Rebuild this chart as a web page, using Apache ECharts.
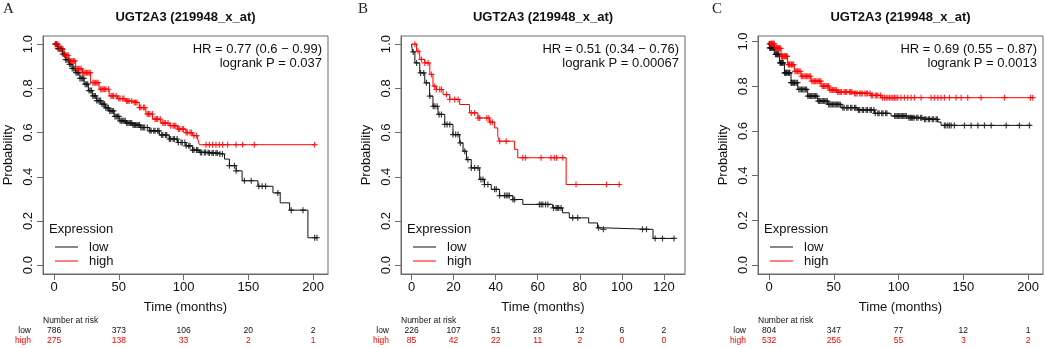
<!DOCTYPE html>
<html>
<head>
<meta charset="utf-8">
<script src="https://cdn.jsdelivr.net/npm/echarts@6/dist/echarts.min.js"></script>
<style>
  html, body { margin: 0; padding: 0; background: #fff; }
  #chart { width: 1045px; height: 348px; }
</style>
</head>
<body>
<div id="chart"></div>
<script>
// Kaplan-Meier curves: [time in months, survival]
const aLow = [[0,1.0],[3,0.98],[6.4,0.955],[9,0.93],[11.6,0.909],[14,0.89],[16.7,0.871],[20,0.845],[23.2,0.819],[26.5,0.79],[29.6,0.766],[33,0.745],[36.1,0.729],[39.5,0.712],[42.6,0.698],[46.4,0.673],[50.3,0.653],[55.4,0.643],[60.6,0.634],[67,0.623],[73.5,0.608],[81.3,0.589],[89,0.571],[95.4,0.555],[101.9,0.54],[107,0.521],[112.2,0.51],[120,0.507],[127.7,0.503],[131.6,0.48],[135.4,0.45],[140.6,0.427],[145.2,0.382],[157.4,0.357],[169,0.327],[174.6,0.282],[181.9,0.249],[196,0.124],[203.8,0.124]]
const aHigh = [[0,1.0],[3.9,0.977],[7.7,0.95],[11.6,0.924],[16.7,0.889],[21.9,0.871],[28.3,0.826],[34.8,0.796],[42.6,0.766],[49,0.754],[55.4,0.743],[60.6,0.736],[65.8,0.713],[70.9,0.684],[76.1,0.661],[82.5,0.643],[89,0.631],[95.4,0.616],[101.9,0.6],[107,0.586],[110.9,0.571],[112.2,0.545],[201.2,0.545]]
const bLow = [[0,1.0],[0.5,0.965],[1.6,0.915],[3.9,0.87],[6.3,0.825],[8.6,0.765],[10.2,0.719],[12.6,0.682],[15.8,0.637],[19.7,0.591],[22.9,0.553],[24.5,0.516],[26.1,0.478],[28.4,0.44],[32.4,0.388],[34.7,0.365],[37.9,0.343],[41.8,0.315],[48.2,0.297],[52.9,0.275],[67.1,0.259],[71.8,0.237],[75,0.214],[84.2,0.191],[88.4,0.169],[90.8,0.162],[114.8,0.121],[124.8,0.121]]
const bHigh = [[0,1.0],[2.4,0.968],[3.9,0.931],[6.3,0.915],[8.7,0.863],[10.2,0.81],[11.8,0.795],[15,0.772],[18.2,0.75],[22.9,0.727],[27.6,0.689],[31.6,0.666],[37.1,0.647],[39.5,0.621],[41,0.584],[41.8,0.561],[49,0.524],[50.5,0.486],[73.5,0.365],[99.5,0.365]]
const cLow = [[0,1.0],[0.3,0.972],[4.1,0.943],[8,0.905],[11.9,0.86],[17,0.816],[22.2,0.786],[29.9,0.756],[37.6,0.734],[45.3,0.719],[55.6,0.704],[68.5,0.694],[81.4,0.679],[94.2,0.667],[107.1,0.659],[120,0.652],[130.3,0.64],[132.8,0.625],[202.3,0.625]]
const cHigh = [[0,1.0],[0.5,0.99],[4.1,0.97],[9.3,0.934],[14.4,0.897],[19.6,0.867],[24.7,0.845],[32.4,0.823],[40.2,0.801],[46.6,0.783],[53,0.774],[65.9,0.768],[78.8,0.759],[86.5,0.749],[203.6,0.749]]

// censoring times (months)
const aLowCens = [1,2,3,4,5,6,7,8,9,10,11,12,13,14,15,16,17,18,19,20,21,22,23,24,25,26,27,28,29,30,31,32,33,34,35,36,37,38,39,40,41,42,43,44,45,46,47,48,49,50,51,52,53,54,55,56,57,58,59,60,61,62,63,64,65,66,67,68,69,70,72,74,75,77,78,80,81,83,84,86,87,89,90,92,93,95,96,98,99,101,102,104,105,107,108,110,111,113,114,116,117,119,120,122,123,125,126,128,130,135.4,139.3,140.6,147,152.2,158.1,160.7,163.3,172.8,183.1,192.2,201.2,203]
const aHighCens = [1,2,3,4,5,6,7,8,9,10,11,12,13,14,15,16,17,18,19,20,21,22,23,24,25,26,27,28,30,31,32,33,34,36,37,38,39,40,42,44,45,46,48,50,51,53,54,56,57,58,60,62,63,64,66,67,69,70,72,73,74,76,78,79,80,82,84,85,86,88,90,92,93,94,96,97,99,100,102,103,105,106,108,110,117.3,119.9,122.4,125,127.6,130.2,134,140.5,145.6,154.6,201.2]
const bLowCens = [0.8,2.4,4.3,5.8,7.1,8.7,10.3,11.1,12.2,13.1,14.2,15.8,16.9,18.2,19.7,21,22.1,23.2,25.3,26.8,28.4,30,31.6,33,34,34.7,36.3,39.5,40.3,41.9,44.2,45,45.8,46.5,48.2,49,60.8,61.6,62.4,63.7,64.8,67.5,68.7,69.4,70,71.1,76.6,79,88.9,91.2,109.8,111.7,115.8,119.3,124.8]
const bHighCens = [1.6,3.1,4.7,6.3,7.9,9.5,11,11.8,13.4,14.2,16.6,18.2,20.5,22.1,28.4,30,31.6,32.4,35.8,36.8,37.4,38.4,41.9,45,52.9,54.2,61.6,66.3,67.9,69,71.9,78.2,92.7,98.7]
const cLowCens = [0.5,1,1.5,2,2.5,3,3.5,4,5,5.5,6,6.5,7,7.5,8.5,9,9.5,10,10.5,11,12,12.5,13,13.5,14,15,15.5,16,17,17.5,18,19,19.5,20,21,22,23,24,25,26,27,28,29,30,31,32,33,34,35,36,37,38,39,40,41,42,43,44,45,46,47,48,49,50,51,52,53,54,55,57,58,60,61,63,64,66,67,69,70,72,73,75,76,78,79,81,82,84,85,87,88,90,91,97,98,99,100,101,102,103,104,105,106,108,109,110,111,112,114,115,117,118,120,121,123,124,126,127,129,130,135.4,136.5,138,139.3,140.6,143.1,150.9,156,161.2,166.3,171.5,183.1,193.3,201]
const cHighCens = [0.5,1,1.5,2,2.5,3,3.5,4,5,5.5,6,6.5,7,7.5,8,9,9.5,10,10.5,11,12,12.5,13,13.5,14,15,15.5,16,17,17.5,18,19,20,21,22,23,24,25,26,27,28,29,30,31,32,33,34,35,36,37,38,39,40,41,42,43,44,45,46,47,48,49,50,51,52,53,54,55,56,58,59,60,62,63,64,66,67,68,70,71,72,74,75,76,78,79,80,82,83,84,86,87.5,89.1,90.4,91.7,93,94.2,95.5,96.8,98,99.4,101.9,104.5,107.1,109.7,112.3,117.4,125.1,127.7,130.3,132.8,135.4,139.3,144.4,148.3,153.4,163.7,181.7,201.8,203.6]

// x tick labels and numbers at risk
const aTicks = [0, 50, 100, 150, 200]
const bTicks = [0, 20, 40, 60, 80, 100, 120]
const cTicks = [0, 50, 100, 150, 200]
const yTicks = [0, 0.2, 0.4, 0.6, 0.8, 1.0]
const aRiskLow = [786, 373, 106, 20, 2]
const aRiskHigh = [275, 138, 33, 2, 1]
const bRiskLow = [226, 107, 51, 28, 12, 6, 2]
const bRiskHigh = [85, 42, 22, 11, 2, 0, 0]
const cRiskLow = [804, 347, 77, 12, 1]
const cRiskHigh = [532, 256, 55, 3, 2]

const titles = ['UGT2A3 (219948_x_at)', 'UGT2A3 (219948_x_at)', 'UGT2A3 (219948_x_at)']
const hrTexts = ['HR = 0.77 (0.6 \u2212 0.99)', 'HR = 0.51 (0.34 \u2212 0.76)', 'HR = 0.69 (0.55 \u2212 0.87)']
const pTexts = ['logrank P = 0.037', 'logrank P = 0.00067', 'logrank P = 0.0013']

const FONT = '"Liberation Sans", Arial, sans-serif'
const BLACK = '#111'
const RED = '#ff0000'
const BOX = '#6a6a6a'
const PLUS = 'path://M4,0H6V4H10V6H6V10H4V6H0V4H4Z'

// panel layout
const panels = [
  { letter: 'A', letterX: 3, left: 43, width: 285, xMin: -8.5, xMax: 211.5, yMax: 1.037,
    low: aLow, high: aHigh, lowCens: aLowCens, highCens: aHighCens, ticks: aTicks, riskLow: aRiskLow, riskHigh: aRiskHigh },
  { letter: 'B', letterX: 358, left: 401, width: 284, xMin: -5, xMax: 130, yMax: 1.037,
    low: bLow, high: bHigh, lowCens: bLowCens, highCens: bHighCens, ticks: bTicks, riskLow: bRiskLow, riskHigh: bRiskHigh },
  { letter: 'C', letterX: 712, left: 758, width: 285, xMin: -8.5, xMax: 211.5, yMax: 1.025,
    low: cLow, high: cHigh, lowCens: cLowCens, highCens: cHighCens, ticks: cTicks, riskLow: cRiskLow, riskHigh: cRiskHigh }
]
const TOP = 36, HEIGHT = 238

// survival value of a step curve at time t
function survAt(curve, t) {
  let s = curve[0][1]
  for (const p of curve) { if (p[0] <= t) s = p[1]; else break }
  return s
}

const grid = [], xAxis = [], yAxis = [], series = []
panels.forEach((p, i) => {
  grid.push({ left: p.left, top: TOP, width: p.width, height: HEIGHT, show: true,
    borderColor: BOX, borderWidth: 1, backgroundColor: 'transparent', outerBoundsMode: 'none' })
  xAxis.push({
    type: 'value', gridIndex: i, min: p.xMin, max: p.xMax,
    axisLine: { show: true, onZero: false, lineStyle: { color: BOX } },
    axisTick: { show: true, length: 6, customValues: p.ticks, lineStyle: { color: BOX } },
    axisLabel: { customValues: p.ticks, margin: 7, fontSize: 13, fontFamily: FONT, color: BLACK },
    splitLine: { show: false },
    name: 'Time (months)', nameLocation: 'middle', nameGap: 27,
    nameTextStyle: { fontSize: 13, fontFamily: FONT, color: BLACK }
  })
  yAxis.push({
    type: 'value', gridIndex: i, min: -0.04, max: p.yMax,
    axisLine: { show: true, onZero: false, lineStyle: { color: BOX } },
    axisTick: { show: true, length: 6, customValues: yTicks, lineStyle: { color: BOX } },
    axisLabel: { customValues: yTicks, rotate: 90, margin: 8, fontSize: 13, fontFamily: FONT, color: BLACK,
      formatter: v => v.toFixed(1) },
    splitLine: { show: false },
    name: 'Probability', nameLocation: 'middle', nameGap: 28,
    nameTextStyle: { fontSize: 13, fontFamily: FONT, color: BLACK }
  })
  const add = (curve, cens, color, name) => {
    series.push({ type: 'line', name, xAxisIndex: i, yAxisIndex: i, step: 'end', symbol: 'none',
      data: curve, lineStyle: { color, width: 1 }, itemStyle: { color }, silent: true })
    series.push({ type: 'scatter', name, xAxisIndex: i, yAxisIndex: i, symbol: PLUS, symbolSize: 6,
      data: cens.map(t => [t, survAt(curve, t)]), itemStyle: { color }, silent: true })
  }
  add(p.low, p.lowCens, BLACK, 'low')
  add(p.high, p.highCens, RED, 'high')
})

const chart = echarts.init(document.getElementById('chart'))
chart.setOption({ animation: false, grid, xAxis, yAxis, series })

// text, legend and risk table
const graphic = []
const txt = (text, x, y, opts) => graphic.push({ type: 'text', x, y, silent: true,
  style: Object.assign({ text, font: '13px ' + FONT, fill: BLACK, align: 'left', verticalAlign: 'middle' }, opts) })
panels.forEach((p, i) => {
  const right = p.left + p.width
  txt(p.letter, p.letterX, 9, { font: '15px "Liberation Serif", serif', fill: '#222' })
  txt(titles[i], p.left + p.width / 2, 17, { font: 'bold 13px ' + FONT, align: 'center' })
  txt(hrTexts[i], right - 6, 49, { align: 'right' })
  txt(pTexts[i], right - 6, 63, { align: 'right' })
  txt('Expression', p.left + 6, 229)
  graphic.push({ type: 'line', silent: true, shape: { x1: p.left + 12, y1: 247, x2: p.left + 35, y2: 247 }, style: { stroke: BLACK, lineWidth: 1 } })
  graphic.push({ type: 'line', silent: true, shape: { x1: p.left + 12, y1: 261, x2: p.left + 35, y2: 261 }, style: { stroke: RED, lineWidth: 1 } })
  txt('low', p.left + 46, 247)
  txt('high', p.left + 46, 261)
  const small = '8.5px ' + FONT
  txt('Number at risk', p.left, 321, { font: small })
  txt('low', p.left - 12, 331, { font: small, align: 'right' })
  txt('high', p.left - 12, 341, { font: small, align: 'right', fill: RED })
  p.ticks.forEach((t, k) => {
    const x = chart.convertToPixel({ gridIndex: i }, [t, 0])[0]
    txt(String(p.riskLow[k]), x, 331, { font: small, align: 'center' })
    txt(String(p.riskHigh[k]), x, 341, { font: small, align: 'center', fill: RED })
  })
})
chart.setOption({ graphic })
</script>
</body>
</html>
